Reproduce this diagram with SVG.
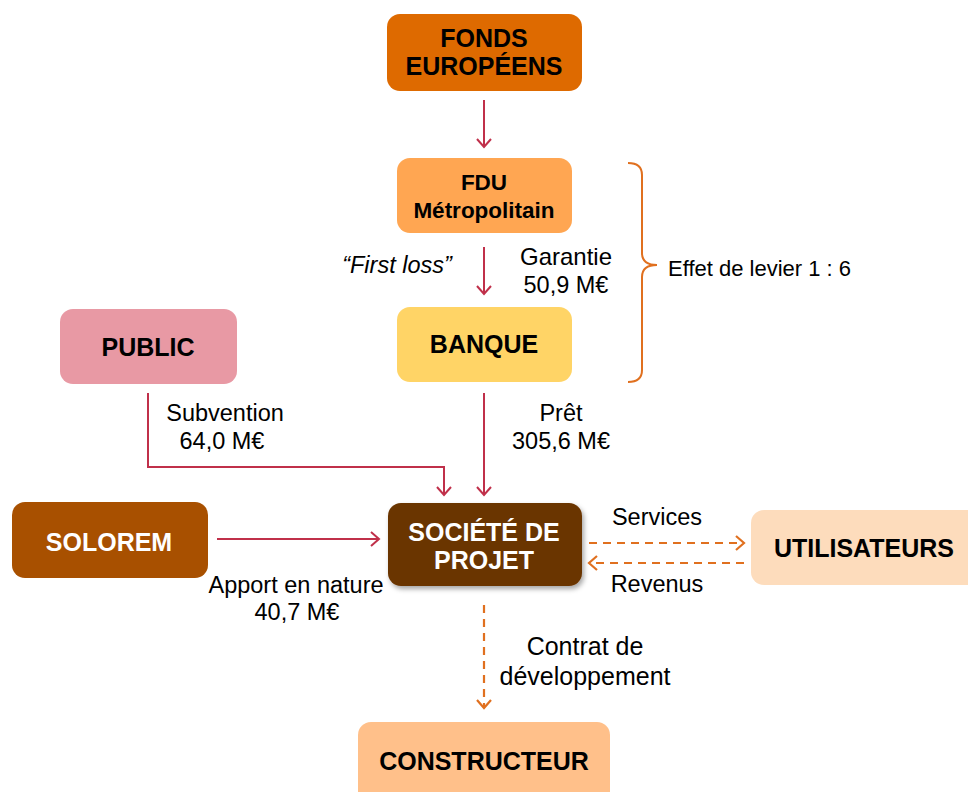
<svg xmlns="http://www.w3.org/2000/svg" width="968" height="792" viewBox="0 0 968 792">
<defs>
<style>
.b{font-family:"Liberation Sans",Arial,sans-serif;font-weight:bold;font-size:25px;text-anchor:middle;fill:#000}
.w{fill:#fff}
.t{font-family:"Liberation Sans",Arial,sans-serif;font-size:23.5px;text-anchor:middle;fill:#000}
.red{fill:none;stroke:#C0304A;stroke-width:2}
.dash{fill:none;stroke:#E0701F;stroke-width:2.2;stroke-dasharray:8 6}
</style>
<marker id="ar" markerWidth="16" markerHeight="16" refX="13" refY="8" orient="auto" markerUnits="userSpaceOnUse">
<polyline points="5,1 13,8 5,15" fill="none" stroke="#C0304A" stroke-width="2"/>
</marker>
<marker id="ao" markerWidth="16" markerHeight="16" refX="13" refY="8" orient="auto" markerUnits="userSpaceOnUse">
<polyline points="5,1 13,8 5,15" fill="none" stroke="#E0701F" stroke-width="2.2"/>
</marker>
<filter id="sh" x="-10%" y="-10%" width="130%" height="130%">
<feDropShadow dx="2" dy="3" stdDeviation="2.5" flood-color="#000" flood-opacity="0.35"/>
</filter>
</defs>
<rect width="968" height="792" fill="#fff"/>

<g id="connectors">
<line class="red" x1="484" y1="100" x2="484" y2="147" marker-end="url(#ar)"/>
<line class="red" x1="484" y1="247" x2="484" y2="294" marker-end="url(#ar)"/>
<polyline class="red" points="148,393 148,467 444,467 444,495" marker-end="url(#ar)"/>
<line class="red" x1="484" y1="393" x2="484" y2="495" marker-end="url(#ar)"/>
<line class="red" x1="217" y1="539" x2="379" y2="539" marker-end="url(#ar)"/>
<line class="dash" x1="589" y1="543" x2="744" y2="543" marker-end="url(#ao)"/>
<line class="dash" x1="744" y1="563" x2="589" y2="563" marker-end="url(#ao)"/>
<line class="dash" x1="484" y1="605" x2="484" y2="708" marker-end="url(#ao)"/>
<path d="M628,163 Q642,163 642,175 L642,253 Q642,265 657,265 Q642,265 642,277 L642,370 Q642,382 628,382" fill="none" stroke="#E0701F" stroke-width="2"/>
<text class="t" x="566" y="265" style="font-size:24px">Garantie</text>
<text class="t" x="566" y="293">50,9 M€</text>
<text class="t" x="397" y="273" font-style="italic">“First loss”</text>
<text class="t" x="668" y="276" style="text-anchor:start;font-size:22px">Effet de levier 1 : 6</text>
<text class="t" x="225" y="421">Subvention</text>
<text class="t" x="222" y="449">64,0 M€</text>
<text class="t" x="561" y="421">Prêt</text>
<text class="t" x="561" y="449">305,6 M€</text>
<text class="t" x="296" y="593">Apport en nature</text>
<text class="t" x="297" y="620">40,7 M€</text>
<text class="t" x="657" y="525">Services</text>
<text class="t" x="657" y="592">Revenus</text>
<text class="t" x="585" y="655" style="font-size:25px">Contrat de</text>
<text class="t" x="585" y="685" style="font-size:25px">développement</text>
</g>

<g id="fonds">
<rect x="387" y="14" width="195" height="77" rx="13" fill="#DE6A00"/>
<text class="b" x="484" y="47">FONDS</text>
<text class="b" x="484" y="75">EUROPÉENS</text>
</g>
<g id="fdu">
<rect x="397" y="158" width="175" height="75" rx="13" fill="#FFA652"/>
<text class="b" x="484" y="190" style="font-size:22.5px">FDU</text>
<text class="b" x="484" y="218" style="font-size:22.5px">Métropolitain</text>
</g>
<g id="banque">
<rect x="397" y="307" width="175" height="75" rx="13" fill="#FFD466"/>
<text class="b" x="484" y="353">BANQUE</text>
</g>
<g id="public">
<rect x="60" y="309" width="177" height="75" rx="13" fill="#E899A4"/>
<text class="b" x="148" y="356">PUBLIC</text>
</g>
<g id="solorem">
<rect x="12" y="502" width="196" height="76" rx="13" fill="#A85000"/>
<text class="b w" x="109" y="551">SOLOREM</text>
</g>
<g id="societe">
<rect x="388" y="503" width="194" height="83" rx="13" fill="#6B3500" filter="url(#sh)"/>
<text class="b w" x="484" y="541">SOCIÉTÉ DE</text>
<text class="b w" x="484" y="569">PROJET</text>
</g>
<g id="utilisateurs">
<rect x="751" y="510" width="230" height="75" rx="13" fill="#FDDCBC"/>
<text class="b" x="864" y="557">UTILISATEURS</text>
</g>
<g id="constructeur">
<rect x="358" y="722" width="252" height="90" rx="13" fill="#FFC08A"/>
<text class="b" x="484" y="770">CONSTRUCTEUR</text>
</g>
</svg>
